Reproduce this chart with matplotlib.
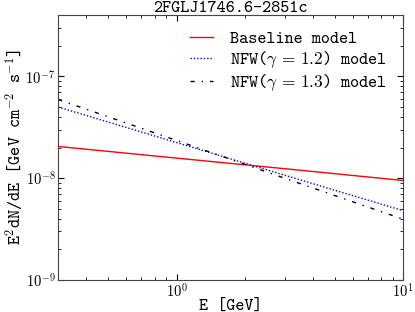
import numpy as np
import matplotlib
matplotlib.use("Agg")
import matplotlib.pyplot as plt
from matplotlib.ticker import FuncFormatter

# values (power-law spectra, straight in log-log)
energy = [0.3, 1.0, 3.0, 10.0]  # GeV
baseline = [2.05e-8, 1.575e-8, 1.24e-8, 0.95e-8]
nfw_12 = [5.0e-8, 2.24e-8, 1.07e-8, 4.8e-9]
nfw_13 = [5.93e-8, 2.35e-8, 1.00e-8, 3.96e-9]

plt.rcParams['font.family'] = ['cmtt10', 'DejaVu Sans']
plt.rcParams['mathtext.fontset'] = 'cm'
plt.rcParams['axes.unicode_minus'] = False

fig = plt.figure(figsize=(4.15, 3.12), dpi=100)
ax = fig.add_axes([0.140, 0.1026, 0.831, 0.849])

ax.plot(energy, baseline, color='r', lw=1.0, ls='-', label='Baseline model')
ax.plot(energy, nfw_12, color='b', lw=1.0, dashes=(1, 1.4), label=r'NFW($\gamma\,=\,\mathbf{1.2}$) model')
ax.plot(energy, nfw_13, color='k', lw=1.0, dashes=(3, 5, 1, 5), label=r'NFW($\gamma\,=\,\mathbf{1.3}$) model')

ax.set_xscale('log')
ax.set_yscale('log')
ax.set_xlim(0.3, 10)
ax.set_ylim(1e-9, 4e-7)

fmt = FuncFormatter(lambda v, p: r'$10^{%d}$' % round(np.log10(v)))
ax.xaxis.set_major_formatter(fmt)
ax.yaxis.set_major_formatter(fmt)

ax.tick_params(which='both', direction='in', top=True, right=True, labelsize=10.5)
ax.tick_params(which='major', length=4, pad=2)
ax.tick_params(which='minor', length=2)
for s in ax.spines.values():
    s.set_color('#444444')

ax.set_title('2FGLJ1746.6-2851c', fontsize=12.5, y=1.0, pad=2.5)
ax.set_xlabel('E [GeV]', fontsize=12.5)
ax.set_ylabel(r'E$^2$dN/dE [GeV cm$^{-2}$ s$^{-1}$]', fontsize=12.5)
ax.xaxis.set_label_coords(0.5, -0.07)
ax.yaxis.set_label_coords(-0.094, 0.5)

ax.legend(loc='upper right', frameon=False, fontsize=12.5, handlelength=1.3,
          handletextpad=1.0, borderaxespad=0.5, labelspacing=0.15)

fig.savefig('out.png', dpi=100)
